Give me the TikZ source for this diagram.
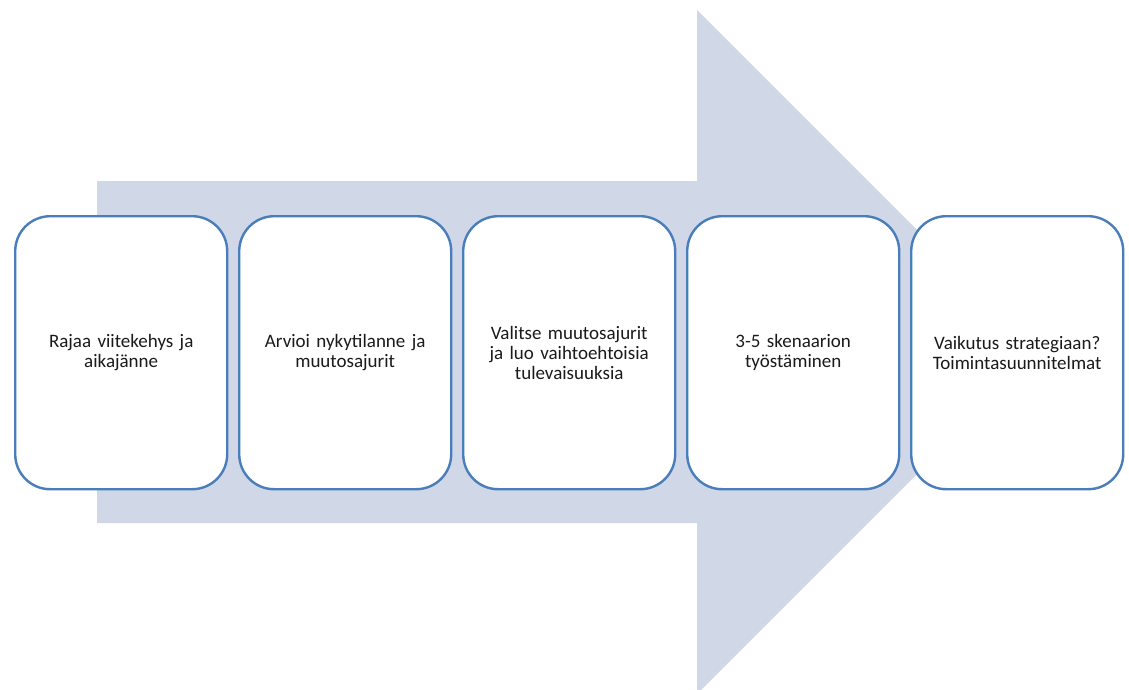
\documentclass[tikz,border=0pt]{standalone}
\usepackage{fontspec}
\setmainfont{Carlito}
\definecolor{arrowfill}{HTML}{D0D8E7}
\definecolor{boxline}{HTML}{4A7EBB}
\definecolor{txt}{HTML}{1A1A1A}
\begin{document}
\begin{tikzpicture}[x=1pt,y=-1pt,
  stepbox/.style={draw=boxline, line width=2.4pt, fill=white, rounded corners=35pt,
    minimum width=212pt, minimum height=273pt, inner sep=0pt, anchor=north west,
    align=center, text width=200pt, text=txt,
    font=\fontsize{19}{20}\selectfont}]
  \useasboundingbox (0,0) rectangle (1129,689);
  % big background arrow
  \fill[arrowfill] (97,181) -- (697,181) -- (697,10) -- (1039,352)
    -- (697,694) -- (697,523) -- (97,523) -- cycle;
  % process steps
  \node[stepbox] (s1) at (14,215)  {Rajaa viitekehys ja\\aikajänne};
  \node[stepbox] (s2) at (238,215) {Arvioi nykytilanne ja\\muutosajurit};
  \node[stepbox] (s3) at (462,215) {Valitse muutosajurit\\ja luo vaihtoehtoisia\\tulevaisuuksia};
  \node[stepbox] (s4) at (686,215) {3-5 skenaarion\\työstäminen};
  \node[stepbox] (s5) at (910,215) {Vaikutus strategiaan?\\Toimintasuunnitelmat};
\end{tikzpicture}
\end{document}
